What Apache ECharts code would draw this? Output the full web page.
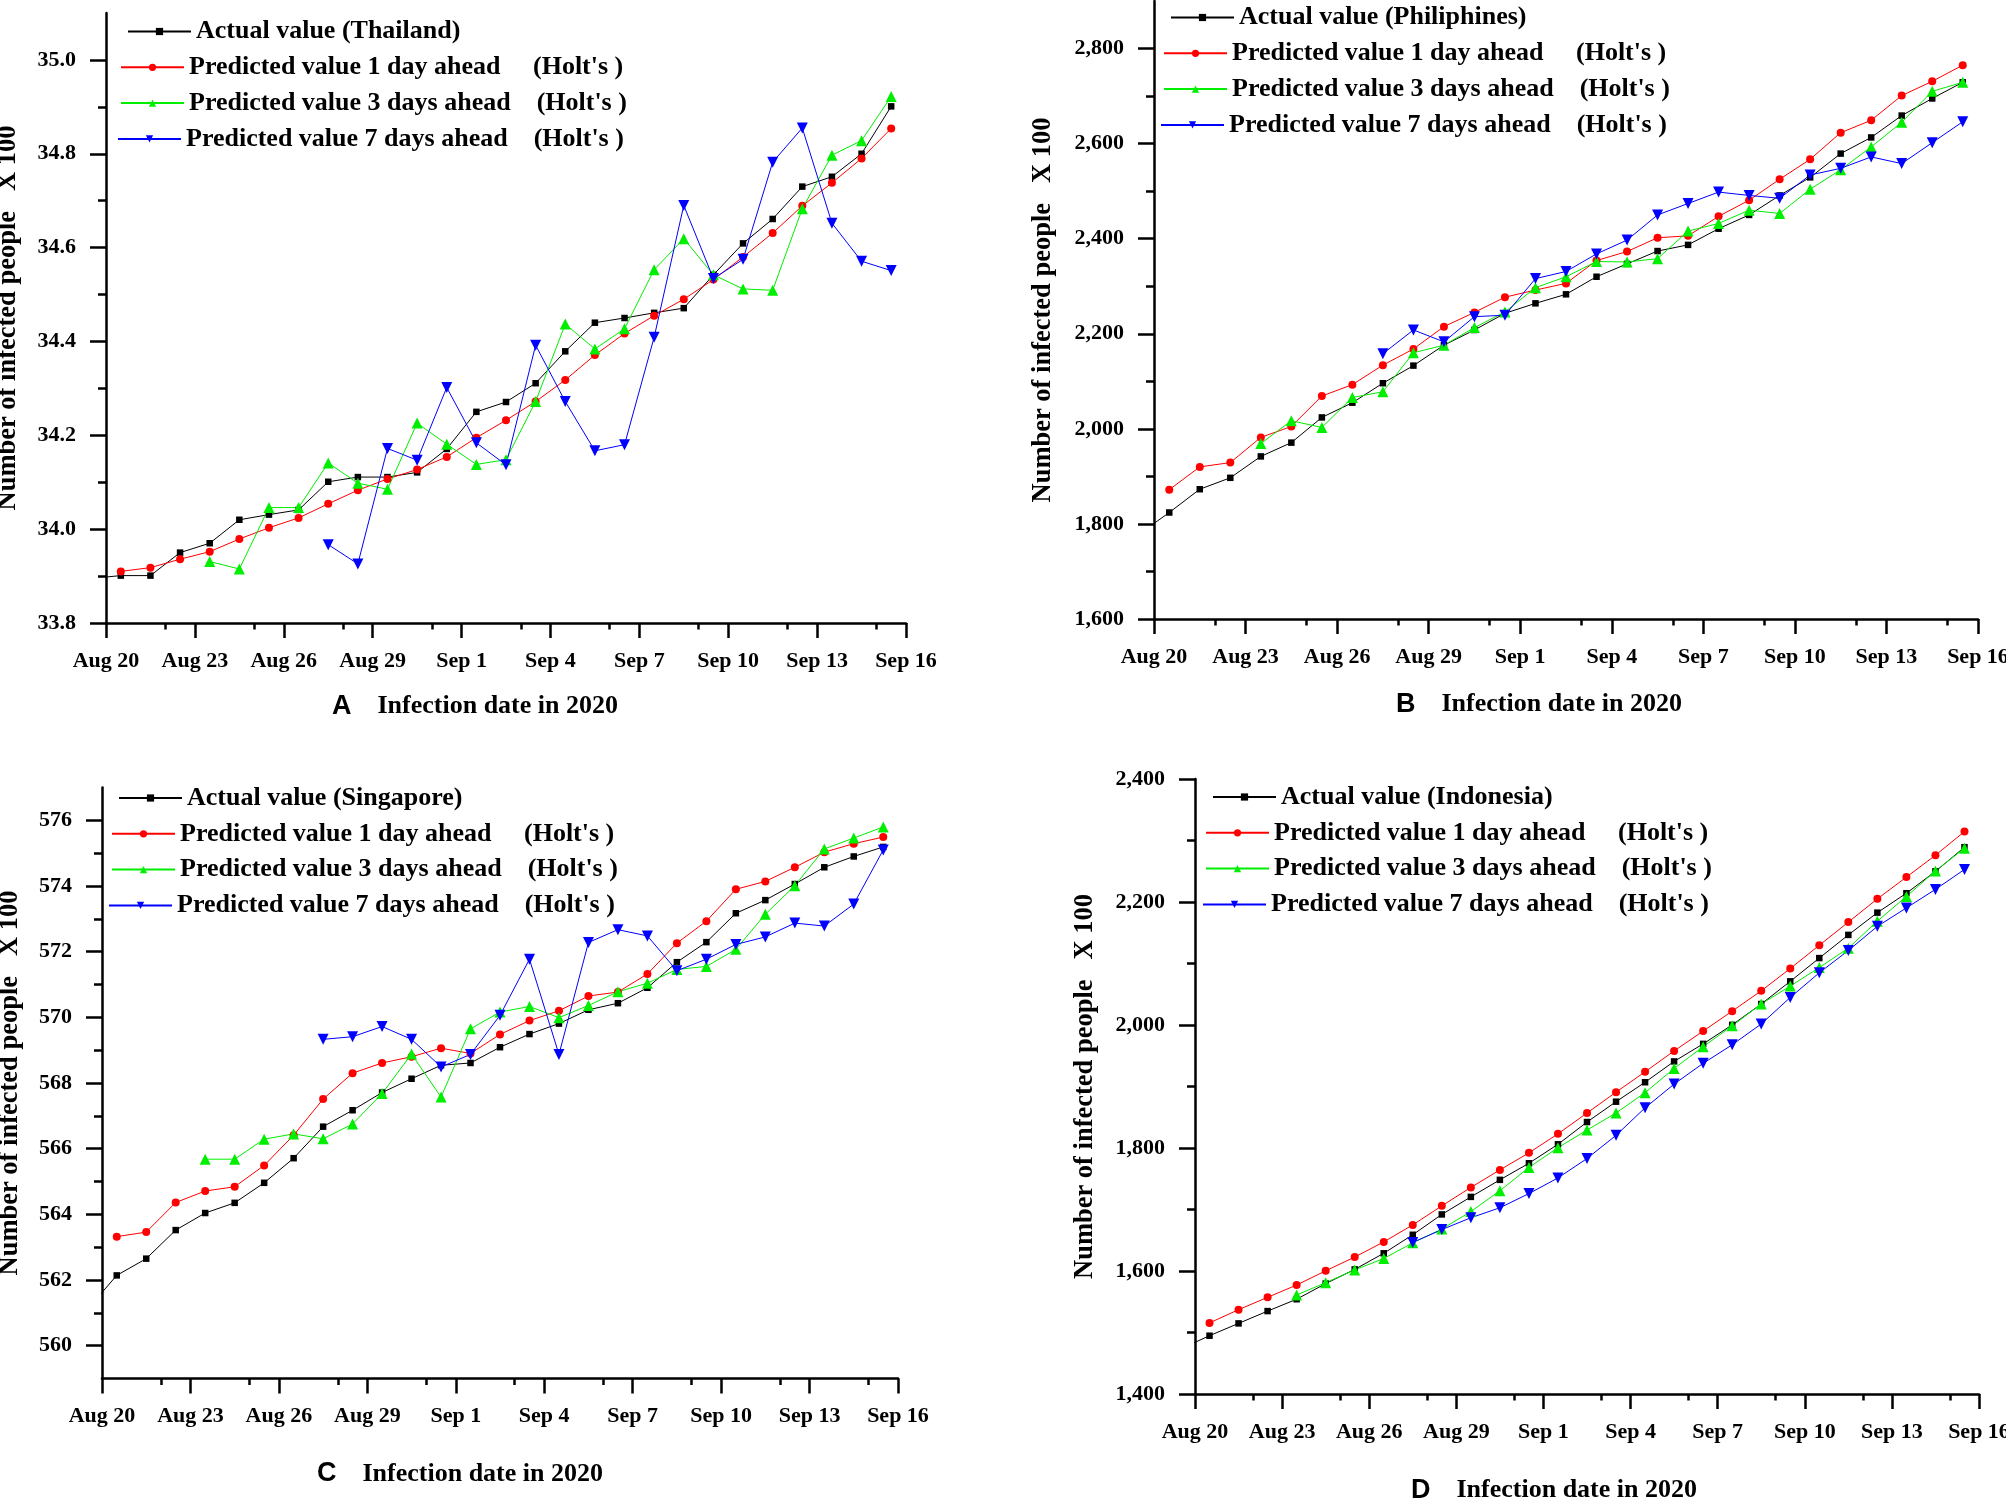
<!DOCTYPE html>
<html>
<head>
<meta charset="utf-8">
<script src="https://cdn.jsdelivr.net/npm/echarts@6/dist/echarts.min.js"></script>
<style>
html,body{margin:0;padding:0;background:#fff;}
#chart{width:2006px;height:1499px;}
</style>
</head>
<body>
<div id="chart"></div>
<script>
// ---------------- data ----------------
// days plotted (each value sits in the middle of its day)
const days = ['Aug 20','Aug 21','Aug 22','Aug 23','Aug 24','Aug 25','Aug 26','Aug 27','Aug 28','Aug 29','Aug 30','Aug 31',
  'Sep 1','Sep 2','Sep 3','Sep 4','Sep 5','Sep 6','Sep 7','Sep 8','Sep 9','Sep 10','Sep 11','Sep 12','Sep 13','Sep 14','Sep 15'];
const actualStart = 'Aug 19';   // actual series begins one day earlier (clipped by the axis)
const pred1Start = 'Aug 20';
const pred3Start = 'Aug 23';
const pred7Start = 'Aug 27';
const xTickLabels = ['Aug 20','Aug 23','Aug 26','Aug 29','Sep 1','Sep 4','Sep 7','Sep 10','Sep 13','Sep 16'];

// A: Thailand
const thActual = [33.895,33.901,33.901,33.950,33.970,34.020,34.031,34.041,34.101,34.111,34.111,34.121,34.171,34.250,34.271,
  34.311,34.379,34.440,34.450,34.461,34.471,34.542,34.609,34.661,34.730,34.751,34.800,34.901];
const thPred1 = [33.910,33.918,33.936,33.952,33.979,34.003,34.024,34.054,34.083,34.107,34.127,34.154,34.195,34.232,
  34.272,34.318,34.371,34.417,34.455,34.490,34.532,34.580,34.631,34.689,34.738,34.790,34.854];
const thPred3 = [33.931,33.915,34.046,34.046,34.141,34.098,34.085,34.226,34.181,34.138,34.148,
  34.272,34.437,34.384,34.427,34.553,34.619,34.542,34.512,34.509,34.683,34.797,34.828,34.922];
const thPred7 = [33.967,33.926,34.172,34.147,34.302,34.184,34.137,
  34.392,34.272,34.167,34.180,34.409,34.690,34.534,34.575,34.782,34.855,34.652,34.571,34.551];

// B: Philippines
const phActual = [1778,1824,1873,1897,1942,1971,2024,2055,2096,2133,2176,2208,2243,
  2264,2283,2320,2347,2374,2387,2421,2450,2491,2529,2579,2613,2659,2695,2729];
const phPred1 = [1872,1920,1929,1982,2005,2069,2093,2134,2168,2215,2245,2277,
  2292,2306,2354,2373,2402,2406,2447,2481,2525,2567,2623,2649,2701,2731,2765];
const phPred3 = [1969,2017,2003,2066,2078,2160,2176,2213,2246,
  2297,2320,2352,2351,2358,2416,2432,2460,2453,2504,2545,2593,2645,2710,2729];
const phPred7 = [2158,2208,2183,2236,2239,
  2316,2331,2368,2397,2450,2474,2498,2491,2485,2534,2548,2572,2558,2602,2646];

// C: Singapore
const sgActual = [561.10,562.14,562.65,563.52,564.04,564.35,564.96,565.71,566.67,567.17,567.71,568.13,568.54,568.61,569.09,
  569.49,569.81,570.23,570.43,570.90,571.68,572.29,573.17,573.57,574.06,574.57,574.90,575.19];
const sgPred1 = [563.32,563.46,564.36,564.71,564.84,565.49,566.41,567.51,568.30,568.61,568.80,569.06,568.90,569.48,
  569.90,570.20,570.65,570.77,571.32,572.26,572.93,573.90,574.14,574.57,575.03,575.29,575.49];
const sgPred3 = [565.68,565.68,566.29,566.45,566.30,566.75,567.68,568.88,567.57,569.65,570.16,
  570.33,569.99,570.36,570.78,571.04,571.46,571.55,572.07,573.14,574.01,575.13,575.46,575.80];
const sgPred7 = [569.33,569.41,569.72,569.33,568.49,568.87,570.06,
  571.77,568.87,572.28,572.67,572.48,571.42,571.77,572.22,572.45,572.87,572.78,573.45,575.10];

// D: Indonesia
const idActual = [1473.2,1494.8,1514.8,1534.8,1554.1,1579.5,1602.6,1628.8,1658.9,1692.0,1720.5,1748.2,1775.2,
  1806.0,1842.2,1875.3,1906.9,1940.8,1969.3,2000.2,2034.1,2071.0,2108.8,2146.5,2182.7,2214.3,2249.8,2289.1];
const idPred1 = [1515.6,1537.1,1557.2,1577.2,1600.3,1622.7,1647.3,1675.0,1705.9,1735.9,1764.4,1792.1,
  1823.0,1856.9,1890.8,1923.9,1957.8,1990.1,2022.5,2055.6,2091.8,2129.6,2167.3,2205.1,2240.5,2276.0,2314.5];
const idPred3 = [1561.0,1581.0,1601.8,1620.3,1645.8,1668.1,1696.6,1730.5,1768.3,
  1800.6,1829.1,1856.9,1890.0,1929.3,1964.7,1998.6,2034.1,2063.3,2093.4,2125.0,2168.9,2209.0,2250.5,2287.5];
const idPred7 = [1646.5,1667.3,1686.6,1702.8,1725.9,
  1751.3,1782.9,1820.6,1865.3,1903.9,1937.7,1967.8,2001.7,2044.8,2084.9,2121.1,2160.4,2190.4,2220.5,2252.9];

// y-axis ticks
const yTicksA = [33.8,34.0,34.2,34.4,34.6,34.8,35.0];
const yMinorA = [33.9,34.1,34.3,34.5,34.7,34.9];
const yTicksB = [1600,1800,2000,2200,2400,2600,2800];
const yMinorB = [1700,1900,2100,2300,2500,2700];
const yTicksC = [560,562,564,566,568,570,572,574,576];
const yMinorC = [561,563,565,567,569,571,573,575];
const yTicksD = [1400,1600,1800,2000,2200,2400];
const yMinorD = [1500,1700,1900,2100,2300];
const xMajor = [0,3,6,9,12,15,18,21,24,27];
const xMinor = [2,5,8,11,14,17,20,23,26];

const legendNames = ['Predicted value 1 day ahead     (Holt\'s )',
                     'Predicted value 3 days ahead    (Holt\'s )',
                     'Predicted value 7 days ahead    (Holt\'s )'];

// ---------------- layout ----------------
const SERIF = '"Liberation Serif","Times New Roman",serif';
const SANS = '"Liberation Sans",Arial,sans-serif';

const panels = [
  {letter:'A', country:'Thailand', grid:{left:106, top:13, width:800, height:610},
   ymin:33.8, ymax:35.1, ticks:yTicksA, minor:yMinorA, fmt:v=>v.toFixed(1),
   actual:thActual, p1:thPred1, p3:thPred3, p7:thPred7,
   nameGap:84, titleGap:70, titleShift:31, legend:{left:120, top:18.5}},
  {letter:'B', country:'Philiphines', grid:{left:1154, top:1, width:824, height:618},
   ymin:1600, ymax:2900, ticks:yTicksB, minor:yMinorB, fmt:v=>v.toLocaleString('en-US'),
   actual:phActual, p1:phPred1, p3:phPred3, p7:phPred7,
   nameGap:97, titleGap:72, titleShift:27, legend:{left:1163, top:4.5}},
  {letter:'C', country:'Singapore', grid:{left:102, top:787.5, width:796, height:591},
   ymin:559, ymax:577, ticks:yTicksC, minor:yMinorC, fmt:v=>String(v),
   actual:sgActual, p1:sgPred1, p3:sgPred3, p7:sgPred7,
   nameGap:78, titleGap:82, titleShift:40, legend:{left:111, top:785}},
  {letter:'D', country:'Indonesia', grid:{left:1195, top:779, width:784, height:615},
   ymin:1400, ymax:2400, ticks:yTicksD, minor:yMinorD, fmt:v=>v.toLocaleString('en-US'),
   actual:idActual, p1:idPred1, p3:idPred3, p7:idPred7,
   nameGap:96, titleGap:83, titleShift:33, legend:{left:1205, top:784}}
];
const legendRowDx = [7, 0, 0, -3];
const legendRowStep = 35.8;

function xPos(startName, i) {
  // centre of the day: index in days[] + 0.5 (actual starts the day before days[0])
  const base = startName === actualStart ? -1 : days.indexOf(startName);
  return base + i + 0.5;
}

const option = {
  backgroundColor:'#fff',
  animation:false,
  grid:[], xAxis:[], yAxis:[], series:[], legend:[]
};

const tickLine = {color:'#000', width:2.5};

panels.forEach((p, k) => {
  option.grid.push(Object.assign({containLabel:false, outerBoundsMode:'none', show:false}, p.grid));
  const xi = option.xAxis.length, yi = option.yAxis.length;
  // main x axis
  option.xAxis.push({
    type:'value', gridIndex:k, min:0, max:27, position:'bottom',
    name:'{p|' + p.letter + '}    {t|Infection date in 2020}',
    nameLocation:'middle', nameGap:p.titleGap,
    nameTextStyle:{fontFamily:SERIF, fontWeight:'bold', fontSize:26, color:'#000',
      padding:[0, p.titleShift*2, 0, 0],
      rich:{p:{fontFamily:SANS, fontWeight:'bold', fontSize:27, color:'#000'},
            t:{fontFamily:SERIF, fontWeight:'bold', fontSize:26, color:'#000'}}},
    axisLine:{show:true, onZero:false, lineStyle:tickLine},
    axisTick:{show:true, inside:false, length:15, lineStyle:tickLine, customValues:xMajor},
    axisLabel:{show:true, customValues:xMajor, margin:27, color:'#000',
      fontFamily:SERIF, fontWeight:'bold', fontSize:22, lineHeight:22,
      formatter:v=>xTickLabels[Math.round(v/3)]},
    splitLine:{show:false}
  });
  // minor x ticks
  option.xAxis.push({
    type:'value', gridIndex:k, min:0, max:27, position:'bottom', offset:0,
    axisLine:{show:false, onZero:false},
    axisTick:{show:true, inside:false, length:6.5, lineStyle:tickLine, customValues:xMinor},
    axisLabel:{show:false}, splitLine:{show:false}
  });
  // main y axis
  option.yAxis.push({
    type:'value', gridIndex:k, min:p.ymin, max:p.ymax, position:'left',
    name:'Number of infected people   X 100', nameLocation:'middle', nameRotate:90, nameGap:p.nameGap,
    nameTextStyle:{fontFamily:SERIF, fontWeight:'bold', fontSize:26.5, color:'#000'},
    axisLine:{show:true, onZero:false, lineStyle:tickLine},
    axisTick:{show:true, inside:false, length:16, lineStyle:tickLine, customValues:p.ticks},
    axisLabel:{show:true, customValues:p.ticks, margin:30, color:'#000',
      fontFamily:SERIF, fontWeight:'bold', fontSize:22, formatter:p.fmt},
    splitLine:{show:false}
  });
  // minor y ticks
  option.yAxis.push({
    type:'value', gridIndex:k, min:p.ymin, max:p.ymax, position:'left', offset:0,
    axisLine:{show:false, onZero:false},
    axisTick:{show:true, inside:false, length:8, lineStyle:tickLine, customValues:p.minor},
    axisLabel:{show:false}, splitLine:{show:false}
  });

  const actualName = 'Actual value (' + p.country + ')';
  const defs = [
    {name:actualName, data:p.actual, start:actualStart, color:'#000000', symbol:'rect', size:6.5, rot:0},
    {name:legendNames[0], data:p.p1, start:pred1Start, color:'#ff0000', symbol:'circle', size:8, rot:0},
    {name:legendNames[1], data:p.p3, start:pred3Start, color:'#00ee00', symbol:'triangle', size:11, rot:0},
    {name:legendNames[2], data:p.p7, start:pred7Start, color:'#0000ff', symbol:'triangle', size:11, rot:180}
  ];
  defs.forEach((d, r) => {
    option.series.push({
      type:'line', name:d.name, xAxisIndex:xi, yAxisIndex:yi, clip:true,
      data:d.data.map((v,i)=>[xPos(d.start,i), v]),
      symbol:d.symbol, symbolSize:d.size, symbolRotate:d.rot, showSymbol:true,
      lineStyle:{color:d.color, width:1}, itemStyle:{color:d.color}, z:2
    });
    option.legend.push({
      orient:'vertical', left:p.legend.left + legendRowDx[r], top:p.legend.top + r*legendRowStep,
      selectedMode:false, itemWidth:63, itemHeight:9, itemGap:0, padding:0,
      data:[d.name],
      textStyle:{fontFamily:SERIF, fontWeight:'bold', fontSize:26, lineHeight:26, color:'#000'}
    });
  });
});

const chart = echarts.init(document.getElementById('chart'), null, {renderer:'canvas'});
chart.setOption(option);
</script>
</body>
</html>
